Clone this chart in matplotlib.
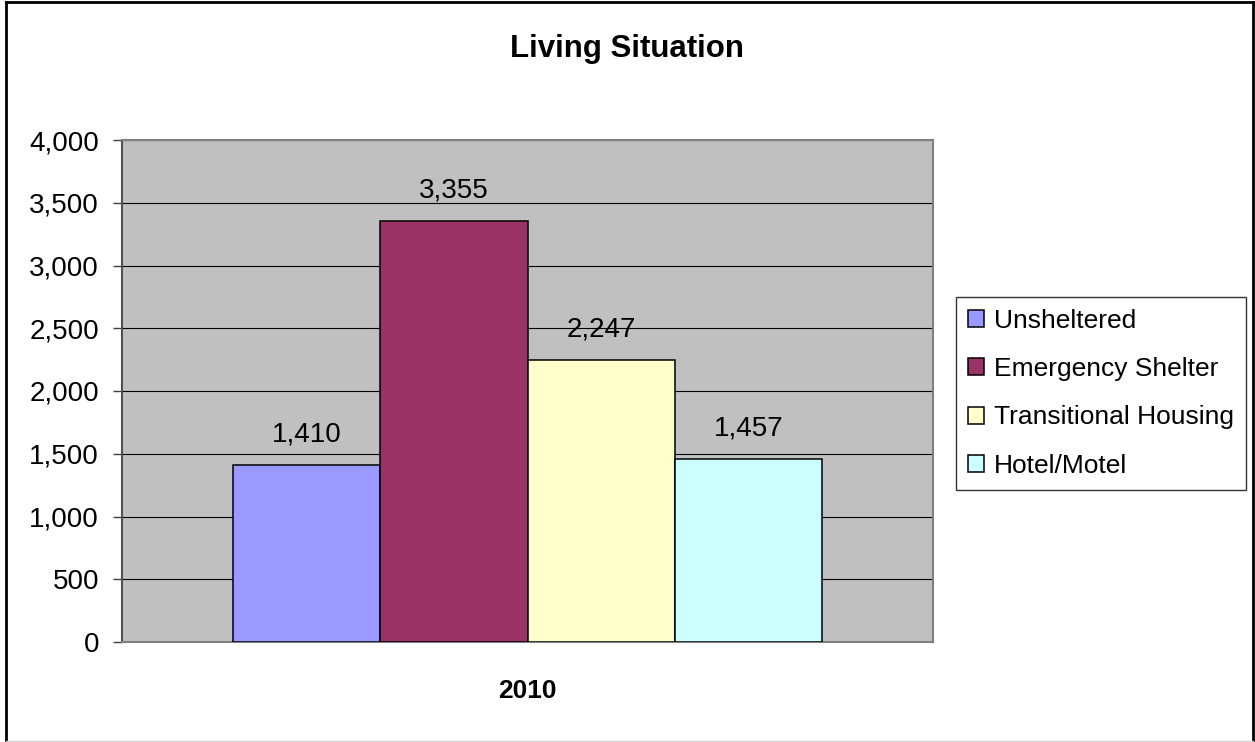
import matplotlib
matplotlib.use("Agg")
from matplotlib import pyplot as plt
from matplotlib.lines import Line2D
import numpy as np

plt.rcParams['font.family'] = ['Liberation Sans', 'DejaVu Sans']

# datos del grafico
year = "2010"
categories = ["Unsheltered", "Emergency Shelter", "Transitional Housing", "Hotel/Motel"]
counts = [1410, 3355, 2247, 1457]
colors = ["#9999FF", "#993366", "#FFFFCC", "#CCFFFF"]
yticks = [0, 500, 1000, 1500, 2000, 2500, 3000, 3500, 4000]

fig = plt.figure(figsize=(12.55, 7.42), dpi=100)
ax = fig.add_axes([122 / 1255, 100 / 742, 811 / 1255, 502 / 742])
ax.set_facecolor("#C0C0C0")

# barras agrupadas dentro de la unica categoria
width = 0.1816
start = -0.3632
for i in range(len(categories)):
  ax.bar(start + width * (i + 0.5), counts[i], width=width, color=colors[i],
         edgecolor="black", linewidth=1.1, label=categories[i], zorder=3)
  ax.annotate(format(counts[i], ','), (start + width * (i + 0.5), counts[i]),
              xytext=(0, 22), textcoords="offset points", ha="center", va="center",
              fontsize=20, zorder=4)

ax.set_xlim(-0.5, 0.5)
ax.set_ylim(0, 4000)
ax.set_yticks(yticks)
ax.set_yticklabels([format(v, ',') for v in yticks])
ax.set_xticks([0])
ax.set_xticklabels([year], fontweight="bold")
ax.tick_params(axis='x', length=0, pad=27, labelsize=19)
ax.tick_params(axis='y', length=6.5, width=1, pad=10, labelsize=20, color="#404040")
ax.yaxis.grid(True, color="black", linewidth=0.8, zorder=1)
ax.set_axisbelow(True)
for s in ax.spines.values():
  s.set_color("#808080")
  s.set_linewidth(1.5)
ax.spines['left'].set_color("#505050")

fig.text(0.5, 1 - 49 / 742, "Living Situation", ha="center", va="center",
         fontsize=22.5, fontweight="bold")

leg = ax.legend(loc="upper left", bbox_to_anchor=(956 / 1255, 1 - 297 / 742),
                bbox_transform=fig.transFigure, borderaxespad=0, fontsize=19,
                frameon=True, fancybox=False, handlelength=0.6, handleheight=0.6,
                handletextpad=0.4, labelspacing=0.92, borderpad=0.45)
leg.get_frame().set_edgecolor("black")
leg.get_frame().set_linewidth(1)

# marco exterior
fig.add_artist(Line2D([6 / 1255, 6 / 1255], [0, 1 - 2 / 742], transform=fig.transFigure, color="black", linewidth=2))
fig.add_artist(Line2D([6 / 1255, 1253 / 1255], [1 - 2 / 742, 1 - 2 / 742], transform=fig.transFigure, color="black", linewidth=2))
fig.add_artist(Line2D([1253 / 1255, 1253 / 1255], [0, 1 - 2 / 742], transform=fig.transFigure, color="black", linewidth=2))
fig.add_artist(Line2D([6 / 1255, 1253 / 1255], [1 / 742, 1 / 742], transform=fig.transFigure, color="#D0D0D0", linewidth=1))

fig.savefig("out.png", dpi=100)
